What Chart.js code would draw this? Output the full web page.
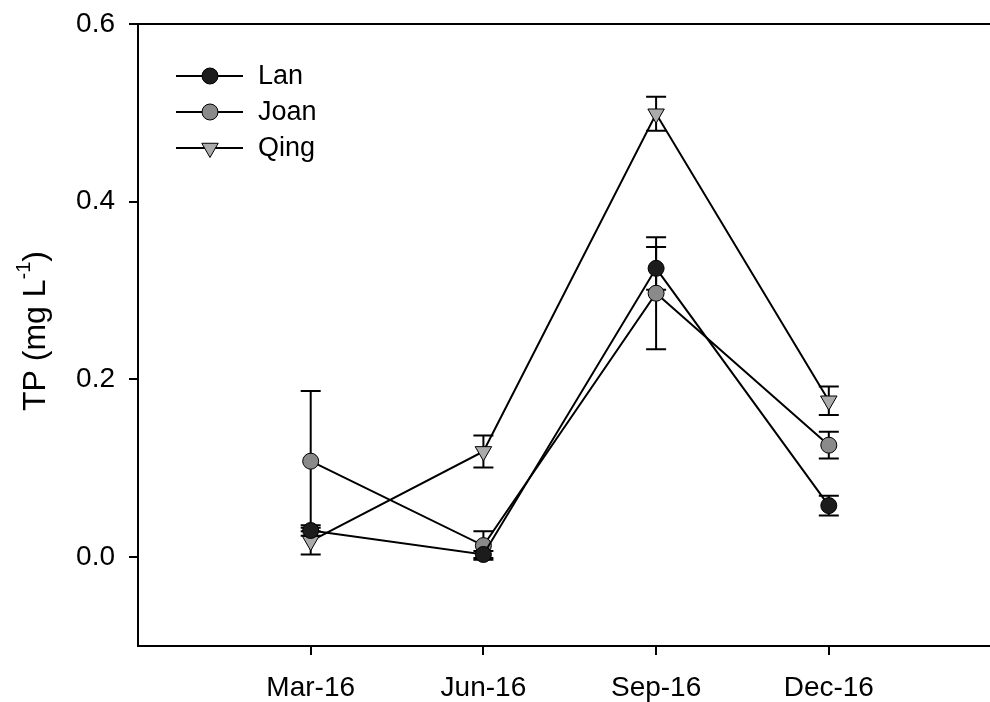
<!DOCTYPE html>
<html>
<head>
<meta charset="utf-8">
<script src="https://cdn.jsdelivr.net/npm/chart.js@4.4.1/dist/chart.umd.min.js"></script>
<style>
  html, body { margin: 0; padding: 0; background: #fff; overflow: hidden; }
  #wrap { width: 990px; height: 702px; overflow: hidden; }
</style>
</head>
<body>
<div id="wrap"><canvas id="c" width="1012" height="702"></canvas></div>
<script>
// Sampling dates (placed at x = 1..4)
const categories = ['Mar-16', 'Jun-16', 'Sep-16', 'Dec-16'];

// Total phosphorus, mean and error (mg L-1)
const lanValues  = [0.030, 0.003, 0.325, 0.058];
const lanErrors  = [0.006, 0.004, 0.024, 0.011];
const joanValues = [0.108, 0.013, 0.297, 0.126];
const joanErrors = [0.079, 0.016, 0.063, 0.015];
const qingValues = [0.018, 0.119, 0.499, 0.176];
const qingErrors = [0.015, 0.018, 0.019, 0.016];

const yTickValues = [0, 0.2, 0.4, 0.6];

const FONT = "'Liberation Sans', Arial, sans-serif";

const series = [
  { label: 'Lan',  values: lanValues,  errors: lanErrors,  fill: '#1c1c1c', style: 'circle',   radius: 8,   rotation: 0 },
  { label: 'Joan', values: joanValues, errors: joanErrors, fill: '#8a8a8a', style: 'circle',   radius: 8,   rotation: 0 },
  { label: 'Qing', values: qingValues, errors: qingErrors, fill: '#ababab', style: 'triangle', radius: 9.5, rotation: 180 }
];

const datasets = series.map(s => ({
  label: s.label,
  data: s.values.map((v, i) => ({ x: i + 1, y: v })),
  errors: s.errors,
  borderColor: '#000',
  borderWidth: 2,
  pointStyle: s.style,
  pointRadius: s.radius,
  pointRotation: s.rotation,
  pointBackgroundColor: s.fill,
  pointBorderColor: '#000',
  pointBorderWidth: 1,
  tension: 0,
  fill: false
}));

// Vertical error bars with caps, drawn beneath the lines and markers
const errorBars = {
  id: 'errorBars',
  beforeDatasetsDraw(chart) {
    const ctx = chart.ctx;
    const xs = chart.scales.x, ys = chart.scales.y;
    ctx.save();
    ctx.strokeStyle = '#000';
    ctx.lineWidth = 2;
    chart.data.datasets.forEach(ds => {
      ds.data.forEach((p, i) => {
        const e = ds.errors[i];
        const px = xs.getPixelForValue(p.x);
        const top = ys.getPixelForValue(p.y + e);
        const bot = ys.getPixelForValue(p.y - e);
        ctx.beginPath();
        ctx.moveTo(px, top); ctx.lineTo(px, bot);
        ctx.moveTo(px - 10, top); ctx.lineTo(px + 10, top);
        ctx.moveTo(px - 10, bot); ctx.lineTo(px + 10, bot);
        ctx.stroke();
      });
    });
    ctx.restore();
  }
};

// Top frame line, y-axis title with superscript, and the line+marker legend
const decorations = {
  id: 'decorations',
  afterDraw(chart) {
    const ctx = chart.ctx;
    const a = chart.chartArea;
    ctx.save();
    ctx.strokeStyle = '#000';
    ctx.lineWidth = 2;
    ctx.beginPath();
    ctx.moveTo(a.left - 1, a.top);
    ctx.lineTo(chart.width, a.top);
    ctx.stroke();
    ctx.beginPath();
    ctx.moveTo(a.right, a.bottom);
    ctx.lineTo(chart.width, a.bottom);
    ctx.stroke();

    // Axis title
    ctx.translate(36, 331);
    ctx.rotate(-Math.PI / 2);
    ctx.fillStyle = '#000';
    ctx.textBaseline = 'middle';
    const main = 'TP (mg L';
    const sup = '-1';
    const close = ')';
    ctx.font = '32px ' + FONT;
    const w1 = ctx.measureText(main).width;
    const w3 = ctx.measureText(close).width;
    ctx.font = '20px ' + FONT;
    const w2 = ctx.measureText(sup).width;
    let x = -(w1 + w2 + w3) / 2;
    ctx.font = '32px ' + FONT;
    ctx.textAlign = 'left';
    ctx.fillText(main, x, 0);
    x += w1;
    ctx.font = '20px ' + FONT;
    ctx.fillText(sup, x, -12);
    x += w2;
    ctx.font = '32px ' + FONT;
    ctx.fillText(close, x, 0);
    ctx.restore();

    // Legend
    ctx.save();
    const rows = [76, 112, 148];
    series.forEach((s, i) => {
      const y = rows[i];
      ctx.strokeStyle = '#000';
      ctx.lineWidth = 2;
      ctx.beginPath();
      ctx.moveTo(176, y);
      ctx.lineTo(243, y);
      ctx.stroke();
      ctx.fillStyle = s.fill;
      ctx.strokeStyle = '#000';
      ctx.lineWidth = 1;
      Chart.helpers.drawPoint(ctx, {
        pointStyle: s.style, radius: s.radius, rotation: s.rotation, borderWidth: 1
      }, 210, y);
      ctx.fillStyle = '#000';
      ctx.font = '27px ' + FONT;
      ctx.textAlign = 'left';
      ctx.textBaseline = 'middle';
      ctx.fillText(s.label, 258, y + 1);
    });
    ctx.restore();
  }
};

new Chart(document.getElementById('c'), {
  type: 'line',
  data: { datasets },
  options: {
    responsive: false,
    animation: false,
    layout: { padding: { top: 24, right: 0, left: 0, bottom: 0 } },
    plugins: { legend: { display: false }, tooltip: { enabled: false } },
    scales: {
      x: {
        type: 'linear',
        min: 0,
        max: 5,
        afterBuildTicks(scale) {
          scale.ticks = categories.map((c, i) => ({ value: i + 1 }));
        },
        afterFit(scale) { scale.height = 56; },
        ticks: {
          autoSkip: false,
          maxRotation: 0,
          padding: 16,
          color: '#000',
          font: { family: FONT, size: 28 },
          callback: v => categories[Math.round(v) - 1] || ''
        },
        grid: { display: true, drawOnChartArea: false, drawTicks: true, tickLength: 9, color: '#000', lineWidth: 2 },
        border: { display: true, color: '#000', width: 2 }
      },
      y: {
        type: 'linear',
        min: -0.1,
        max: 0.6,
        afterBuildTicks(scale) {
          scale.ticks = yTickValues.map(v => ({ value: v }));
        },
        afterFit(scale) {
          scale.width = 138;
          scale.paddingTop = 0;
          scale.paddingBottom = 0;
        },
        ticks: {
          padding: 14,
          color: '#000',
          font: { family: FONT, size: 28 },
          callback: v => Number(v).toFixed(1)
        },
        grid: { display: true, drawOnChartArea: false, drawTicks: true, tickLength: 9, color: '#000', lineWidth: 2 },
        border: { display: true, color: '#000', width: 2 }
      }
    }
  },
  plugins: [errorBars, decorations]
});
</script>
</body>
</html>
